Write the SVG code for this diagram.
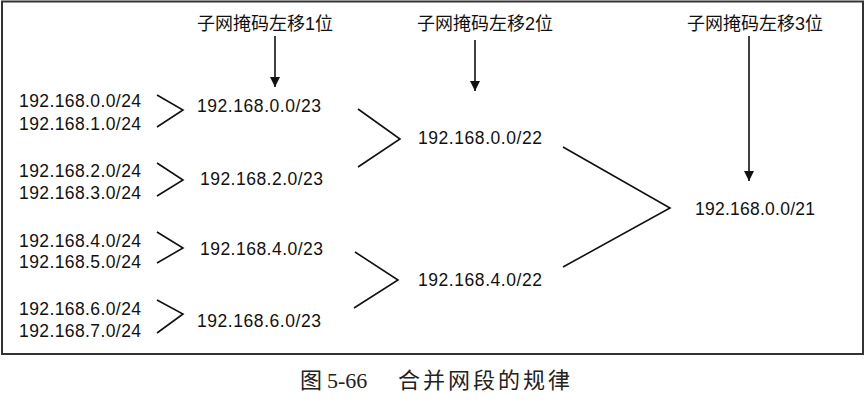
<svg xmlns="http://www.w3.org/2000/svg" width="865" height="406" viewBox="0 0 865 406">
<style>
.t{font-family:"Liberation Sans","Noto Sans CJK SC",sans-serif;font-size:17.5px;fill:#111}
.h{font-family:"Liberation Sans","Noto Sans CJK SC",sans-serif;font-size:18px;fill:#111}
.c{font-family:"Liberation Serif","Noto Sans CJK SC",serif;font-size:22px;fill:#222}
.ln{fill:none;stroke:#111;stroke-width:1.6}
</style>
<defs>
<marker id="ah" viewBox="0 0 10 10" refX="10" refY="5" markerWidth="10" markerHeight="10" markerUnits="userSpaceOnUse" orient="auto">
<path d="M0,0 L10,5 L0,10 Z" fill="#111"/>
</marker>
</defs>
<rect x="0" y="0" width="865" height="406" fill="#fff"/>
<rect x="2" y="1.5" width="861" height="352.5" fill="none" stroke="#333" stroke-width="2"/>
<g id="labels">
<text class="h" x="197" y="30">子网掩码左移1位</text>
<text class="h" x="417" y="30">子网掩码左移2位</text>
<text class="h" x="687" y="30">子网掩码左移3位</text>
</g>
<g id="n24">
<text class="t" x="19" y="107" textLength="122">192.168.0.0/24</text>
<text class="t" x="19" y="130" textLength="122">192.168.1.0/24</text>
<text class="t" x="19" y="177" textLength="122">192.168.2.0/24</text>
<text class="t" x="19" y="199" textLength="122">192.168.3.0/24</text>
<text class="t" x="19" y="247" textLength="122">192.168.4.0/24</text>
<text class="t" x="19" y="268" textLength="122">192.168.5.0/24</text>
<text class="t" x="19" y="315" textLength="122">192.168.6.0/24</text>
<text class="t" x="19" y="337" textLength="122">192.168.7.0/24</text>
</g>
<g id="n23">
<text class="t" x="197" y="112" textLength="124">192.168.0.0/23</text>
<text class="t" x="200" y="185" textLength="123">192.168.2.0/23</text>
<text class="t" x="200" y="255" textLength="123">192.168.4.0/23</text>
<text class="t" x="197" y="327" textLength="124">192.168.6.0/23</text>
</g>
<g id="n22">
<text class="t" x="418" y="144" textLength="124">192.168.0.0/22</text>
<text class="t" x="418" y="286" textLength="124">192.168.4.0/22</text>
</g>
<g id="n21">
<text class="t" x="695" y="215" textLength="120">192.168.0.0/21</text>
</g>
<g id="connectors">
<line class="ln" x1="275" y1="36" x2="275" y2="87" marker-end="url(#ah)"/>
<line class="ln" x1="475" y1="40" x2="475" y2="91" marker-end="url(#ah)"/>
<line class="ln" x1="749" y1="36" x2="749" y2="181" marker-end="url(#ah)"/>
<polyline class="ln" points="157,95 183,110 157,127"/>
<polyline class="ln" points="157,163 183,180 157,196"/>
<polyline class="ln" points="157,232 183,248 157,263"/>
<polyline class="ln" points="157,300 183,314 157,333"/>
<polyline class="ln" points="358,109 400,139 358,167"/>
<polyline class="ln" points="355,252 398,280 354,308"/>
<polyline class="ln" points="563,147 670,208 563,267"/>
</g>
<g id="caption">
<text class="c" x="300" y="388">图</text>
<text class="c" x="327" y="388">5-66</text>
<text class="c" x="398" y="388" textLength="172" lengthAdjust="spacing">合并网段的规律</text>
</g>
</svg>
